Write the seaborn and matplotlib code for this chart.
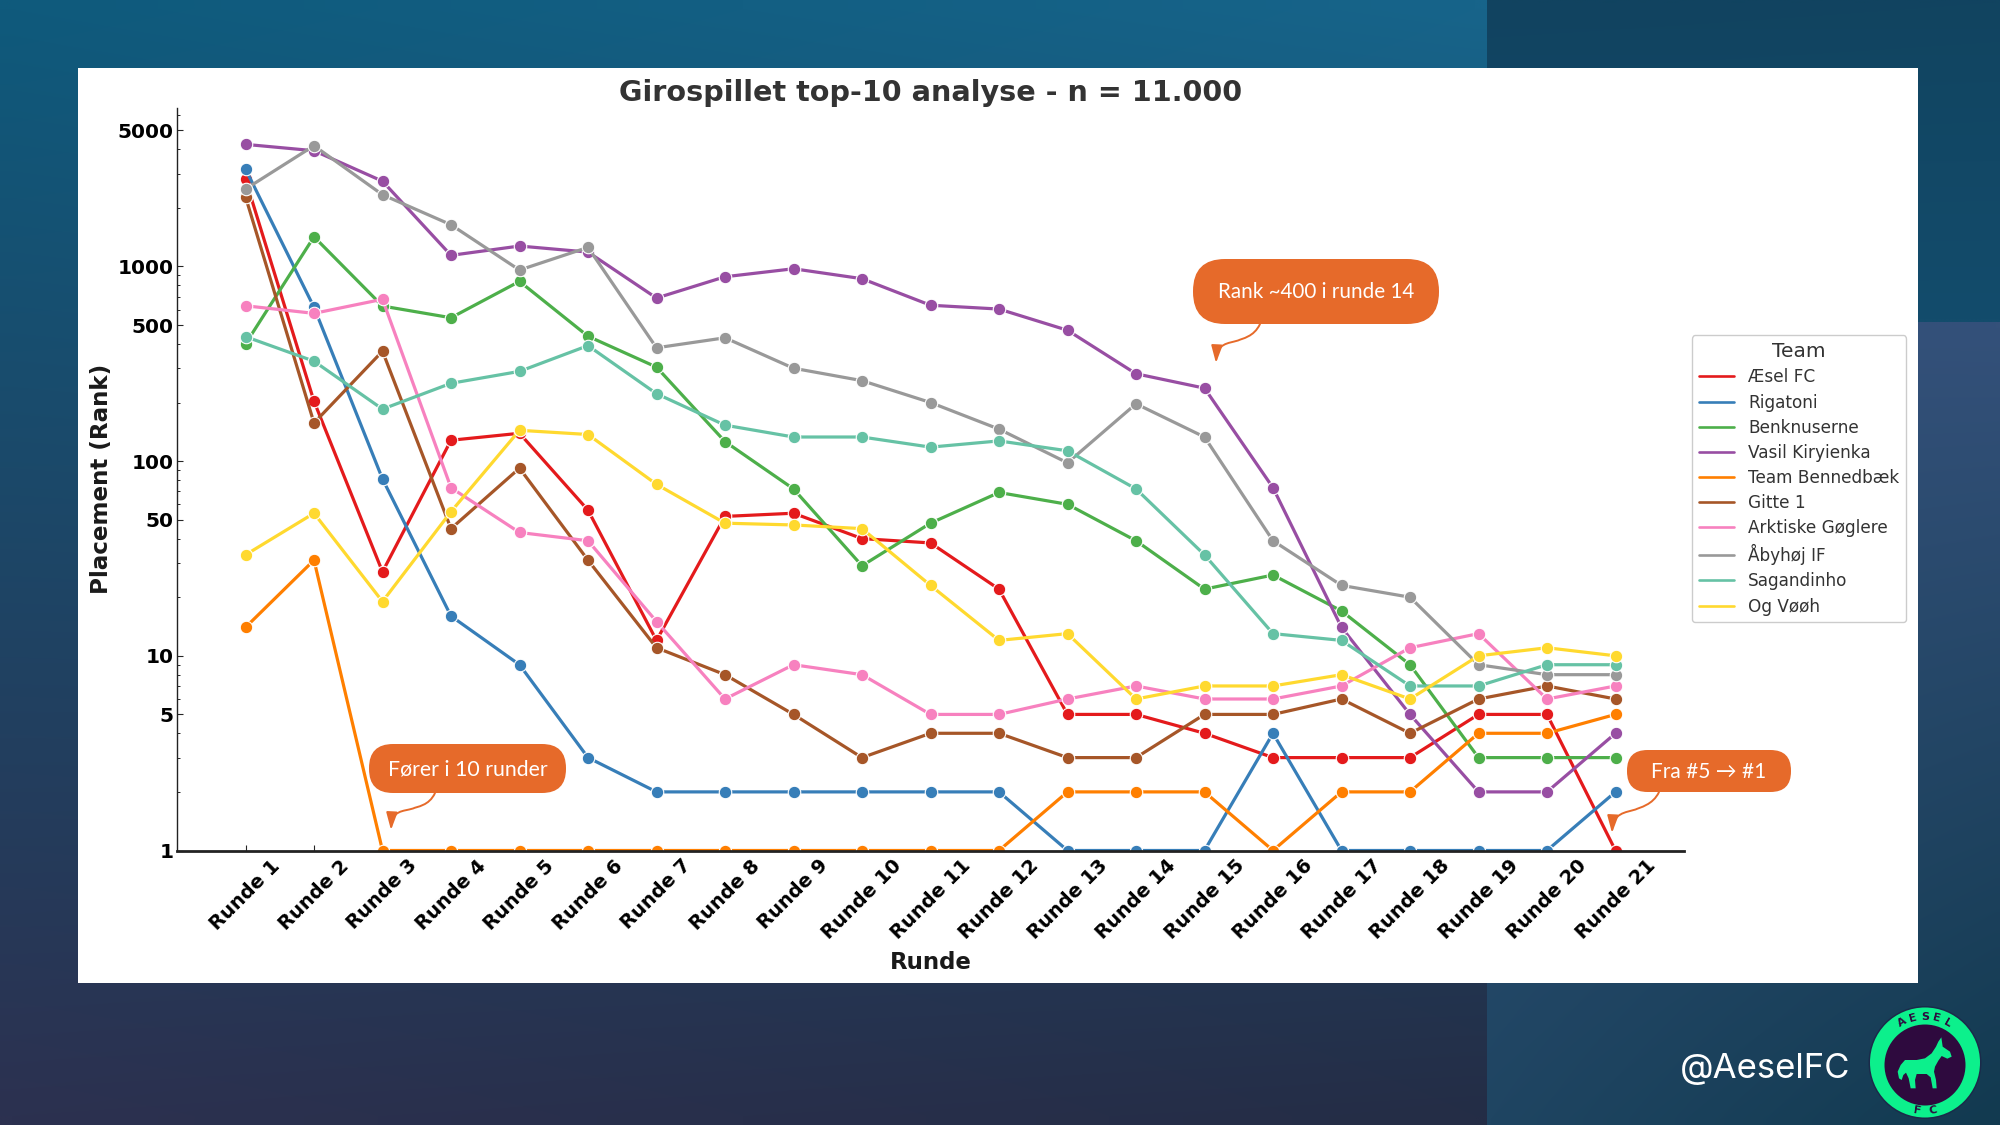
"""Girospillet top-10 rank chart on the slide background."""

import numpy as np
import pandas as pd
import matplotlib
matplotlib.use("Agg")
import matplotlib.pyplot as plt
import seaborn as sns
from matplotlib.colors import to_rgb
from matplotlib.patches import Circle, FancyArrowPatch, FancyBboxPatch, Polygon, Rectangle
from matplotlib.path import Path

# Data
rounds = [f"Runde {i}" for i in range(1, 22)]
aesel_fc = [2800, 203, 27, 128, 139, 56, 12, 52, 54, 40, 38, 22, 5, 5, 4, 3, 3, 3, 5, 5, 1]
rigatoni = [3165, 617, 81, 16, 9, 3, 2, 2, 2, 2, 2, 2, 1, 1, 1, 4, 1, 1, 1, 1, 2]
benknuserne = [400, 1420, 626, 545, 838, 438, 304, 126, 72, 29, 48, 69, 60, 39, 22, 26, 17, 9, 3, 3, 3]
vasil = [4236, 3930, 2740, 1140, 1273, 1185, 688, 885, 973, 865, 632, 604, 470, 281, 237, 73, 14, 5, 2, 2, 4]
bennedbaek = [14, 31, 1, 1, 1, 1, 1, 1, 1, 1, 1, 1, 2, 2, 2, 1, 2, 2, 4, 4, 5]
gitte = [2280, 157, 367, 45, 92, 31, 11, 8, 5, 3, 4, 4, 3, 3, 5, 5, 6, 4, 6, 7, 6]
arktiske = [628, 574, 678, 73, 43, 39, 15, 6, 9, 8, 5, 5, 6, 7, 6, 6, 7, 11, 13, 6, 7]
aabyhoej = [2497, 4170, 2335, 1637, 958, 1253, 382, 430, 300, 259, 200, 146, 98, 197, 133, 39, 23, 20, 9, 8, 8]
sagandinho = [436, 326, 185, 251, 289, 392, 222, 153, 133, 133, 118, 127, 113, 72, 33, 13, 12, 7, 7, 9, 9]
og_voeoeh = [33, 54, 19, 55, 144, 137, 76, 48, 47, 45, 23, 12, 13, 6, 7, 7, 8, 6, 10, 11, 10]

teams = ["Æsel FC", "Rigatoni", "Benknuserne", "Vasil Kiryienka", "Team Bennedbæk",
         "Gitte 1", "Arktiske Gøglere", "Åbyhøj IF", "Sagandinho", "Og Vøøh"]
series = [aesel_fc, rigatoni, benknuserne, vasil, bennedbaek,
          gitte, arktiske, aabyhoej, sagandinho, og_voeoeh]
colors = ["#e41a1c", "#377eb8", "#4daf4a", "#984ea3", "#ff7f00",
          "#a65628", "#f781bf", "#999999", "#66c2a5", "#ffd92f"]
rank_ticks = [1, 5, 10, 50, 100, 500, 1000, 5000]

W, H = 2000, 1125
ORANGE = "#e66a2a"
GREEN = "#0cf08c"
PURPLE = "#2e0a3e"

df = pd.DataFrame(
    [(t, r, v) for t, vals in zip(teams, series) for r, v in zip(rounds, vals)],
    columns=["Team", "Runde", "Rank"],
)

sns.set_style("ticks")
plt.rcParams["font.family"] = ["DejaVu Sans"]

fig = plt.figure(figsize=(W / 100, H / 100), dpi=100)


def gradient(ax, x0, x1, y0, y1, tl, tr, bl, br):
    """Paint a rectangle with a colour blended between its four corners."""
    u, v = np.meshgrid(np.linspace(0, 1, 64), np.linspace(0, 1, 64))
    u, v = u[..., None], v[..., None]
    img = (np.array(to_rgb(tl)) * (1 - u) * (1 - v) + np.array(to_rgb(tr)) * u * (1 - v)
           + np.array(to_rgb(bl)) * (1 - u) * v + np.array(to_rgb(br)) * u * v)
    ax.imshow(img, extent=(x0, x1, y1, y0), aspect="auto", interpolation="bilinear", zorder=0)


# Slide background and white panel
bg = fig.add_axes([0, 0, 1, 1], zorder=0)
gradient(bg, 0, 1487, 0, H, "#0f5a7c", "#17648a", "#2c3150", "#242d46")
gradient(bg, 1487, W, 0, 322, "#114360", "#114460", "#134c6c", "#134c6c")
gradient(bg, 1487, W, 322, H, "#33507a", "#34517a", "#1f4562", "#123a50")
bg.add_patch(Rectangle((78, 68), 1840, 915, facecolor="white", edgecolor="none", zorder=1))
bg.set_xlim(0, W)
bg.set_ylim(H, 0)
bg.axis("off")

# Main chart
ax = fig.add_axes([177 / W, 1 - 850.5 / H, (1684 - 177) / W, (850.5 - 108) / H], zorder=1)
ax.patch.set_alpha(0)
sns.lineplot(
    data=df, x="Runde", y="Rank", hue="Team", hue_order=teams, palette=colors,
    marker="o", markersize=9, markeredgecolor="white", markeredgewidth=0.8,
    linewidth=2.3, sort=False, ax=ax,
)
ax.set_yscale("log")
ax.set_xlim(-1, 21)
ax.set_ylim(1, 6513)
ax.set_yticks(rank_ticks)
ax.set_yticklabels([str(t) for t in rank_ticks], fontweight="bold", fontsize=14.5, color="black")
ax.tick_params(axis="y", which="major", direction="in", length=4, width=0.8, pad=2.5)
ax.tick_params(axis="y", which="minor", direction="in", length=2.5, width=0.7)
ax.tick_params(axis="x", direction="in", length=4, width=0.8, pad=4)
plt.setp(ax.get_xticklabels(), rotation=45, ha="center", fontweight="bold", fontsize=14, color="black")
ax.set_title("Girospillet top-10 analyse - n = 11.000", fontweight="bold", fontsize=20.6,
             color="#333333", pad=5)
ax.set_xlabel("Runde", fontweight="bold", fontsize=16.5, color="#1a1a1a", labelpad=6)
ax.set_ylabel("Placement (Rank)", fontweight="bold", fontsize=16.6, color="#1a1a1a", labelpad=3)
sns.despine(ax=ax)
ax.spines["left"].set_linewidth(1.0)
ax.spines["bottom"].set_linewidth(2.0)
ax.spines["left"].set_color("#222222")
ax.spines["bottom"].set_color("#222222")

handles, labels = ax.get_legend_handles_labels()
for h in handles:
    h.set_marker("")
    h.set_linewidth(1.9)
leg = ax.legend(
    handles, labels, title="Team", loc="upper left", bbox_to_anchor=(1692 / W, 1 - 335.5 / H),
    bbox_transform=fig.transFigure, borderaxespad=0, fontsize=12.2, title_fontsize=14.5,
    frameon=True, framealpha=1, edgecolor="#cccccc", labelspacing=0.42, handlelength=2.1,
)
for t in leg.get_texts():
    t.set_color("#333333")
leg.get_title().set_color("#333333")

# Overlay in pixel coordinates for the callouts, handle and logo
top = fig.add_axes([0, 0, 1, 1], zorder=2)
top.set_xlim(0, W)
top.set_ylim(H, 0)
top.axis("off")


def callout(x0, y0, x1, y1, label, size, arrow):
    r = (y1 - y0) / 2 - 0.5
    top.add_patch(FancyBboxPatch(
        (x0 + r, y0 + r), x1 - x0 - 2 * r, y1 - y0 - 2 * r,
        boxstyle=f"round,pad={r},rounding_size={r}", facecolor=ORANGE, edgecolor="none",
    ))
    top.text((x0 + x1) / 2, (y0 + y1) / 2 + 1, label, color="white", fontsize=size,
             family=["Lato", "DejaVu Sans"], ha="center", va="center")
    (sx, sy), (ex, ey) = arrow
    mx, my = (sx + ex) / 2, (sy + ey) / 2
    # S-shaped stem: leave the pill downward, run across, then drop to the tip
    verts = [(sx, sy), (sx - 6, sy + 13), (mx + 4, my - 5), (mx, my - 3),
             (mx - 10, my), (ex + 1, ey - 20), (ex, ey)]
    codes = [Path.MOVETO] + [Path.CURVE4] * 6
    top.add_patch(FancyArrowPatch(
        path=Path(verts, codes), arrowstyle="-|>,head_length=0.75,head_width=0.24",
        mutation_scale=14, color=ORANGE, lw=1.4, shrinkA=0, shrinkB=0,
    ))


callout(1193, 259, 1439, 324, "Rank ~400 i runde 14", 14.9, ((1260, 324), (1216, 363)))
callout(369, 744, 566, 793, "Fører i 10 runder", 15.3, ((435, 793), (391, 830)))
callout(1627, 750, 1791, 792, "Fra #5 → #1", 15, ((1659, 792), (1612, 833)))

top.text(1765, 1069, "@AeselFC", color="white", fontsize=25, family="Inter", ha="center", va="center")

# Logo
cx, cy = 1925, 1062.5
top.add_patch(Circle((cx, cy), 56.5, facecolor="#1b2a4a", edgecolor="none"))
top.add_patch(Circle((cx, cy), 55, facecolor=GREEN, edgecolor="none"))
top.add_patch(Circle((cx, cy + 2.5), 40.5, facecolor=PURPLE, edgecolor="none"))
for letter, ang in zip("AESEL", [-30, -15, 0, 15, 30]):
    a = np.radians(ang)
    top.text(cx + 46 * np.sin(a), cy - 46 * np.cos(a), letter, color=PURPLE, fontsize=8,
             fontweight="bold", rotation=-ang, ha="center", va="center")
for letter, ang in zip("FC", [-9, 9]):
    a = np.radians(ang)
    top.text(cx + 49 * np.sin(a), cy + 49 * np.cos(a), letter, color=PURPLE, fontsize=8,
             fontweight="bold", rotation=ang, ha="center", va="center")
donkey = [(244, 112), (248, 140), (270, 155), (275, 170), (262, 176), (245, 168), (235, 182),
          (225, 200), (222, 215), (228, 240), (230, 265), (218, 265), (212, 232), (200, 222),
          (170, 222), (165, 240), (167, 265), (152, 265), (146, 235), (138, 218), (130, 225),
          (125, 240), (117, 235), (113, 215), (122, 195), (135, 180), (170, 180), (195, 175),
          (215, 160), (228, 140), (235, 125)]
top.add_patch(Polygon([(1860 + x / 3, 1000 + y / 3) for x, y in donkey], facecolor=GREEN, edgecolor="none"))

fig.savefig("out.png", dpi=100)
